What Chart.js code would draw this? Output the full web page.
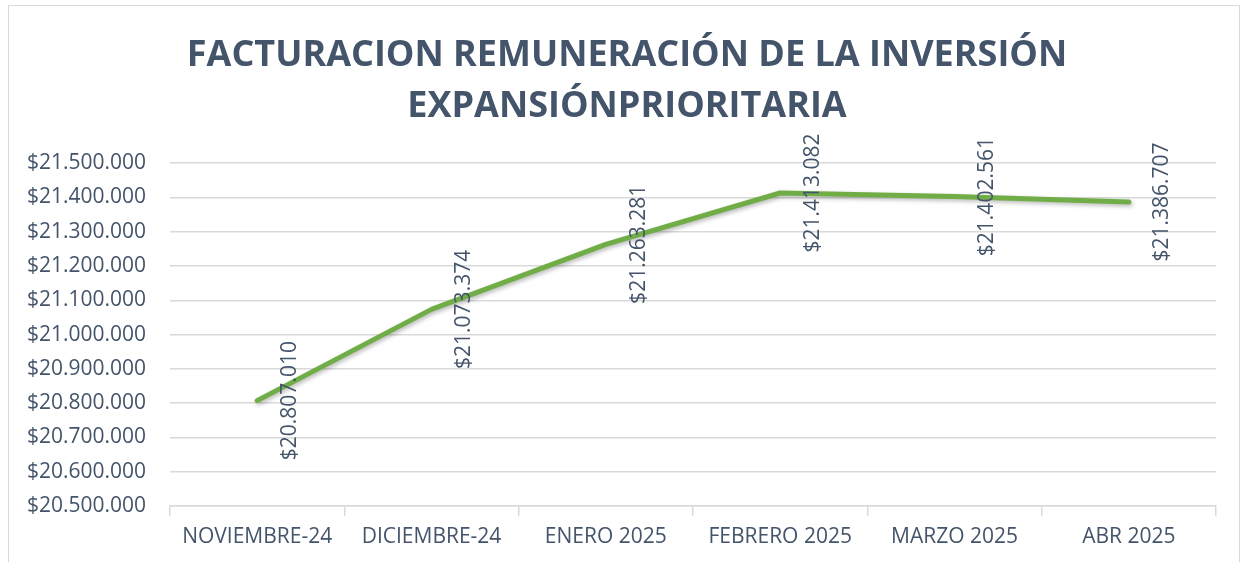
<!DOCTYPE html>
<html>
<head>
    <script src="https://cdn.jsdelivr.net/npm/chart.js@4.4.1/dist/chart.umd.min.js"></script>
    <style>
      body { margin: 0; background: #fff; }
      #wrap { width: 1246px; height: 562px; }
    </style>
</head>
<body>

<div id="wrap"><canvas id="myChart" width="1246" height="562"></canvas></div>

<script>
// Chart data
const meses = ['NOVIEMBRE-24', 'DICIEMBRE-24', 'ENERO 2025', 'FEBRERO 2025', 'MARZO 2025', 'ABR 2025'];
const facturacion = [20807010, 21073374, 21263281, 21413082, 21402561, 21386707];
const tituloLineas = ['FACTURACION REMUNERACIÓN DE LA INVERSIÓN', 'EXPANSIÓNPRIORITARIA'];
const yMin = 20500000;
const yMax = 21500000;
const yPaso = 100000;

const textColor = '#44546A';
const gridColor = '#D9D9D9';
const fontFamily = '"Open Sans", "Noto Sans", sans-serif';

// Format like $21.500.000
function pesos(v) {
  return '$' + Math.round(v).toString().replace(/\B(?=(\d{3})+(?!\d))/g, '.');
}

// Outer frame of the chart
const framePlugin = {
  id: 'frame',
  beforeDraw(chart) {
    const ctx = chart.ctx;
    ctx.save();
    ctx.fillStyle = '#fff';
    ctx.fillRect(0, 0, chart.width, chart.height);
    ctx.strokeStyle = gridColor;
    ctx.lineWidth = 1;
    ctx.strokeRect(8.5, 5.5, chart.width - 15, chart.height + 20);
    ctx.restore();
  }
};

// Soft shadow under the line
const shadowPlugin = {
  id: 'lineShadow',
  beforeDatasetsDraw(chart) {
    const ctx = chart.ctx;
    ctx.save();
    ctx.shadowColor = 'rgba(0,0,0,0.28)';
    ctx.shadowBlur = 4;
    ctx.shadowOffsetX = 1.5;
    ctx.shadowOffsetY = 2;
  },
  afterDatasetsDraw(chart) {
    chart.ctx.restore();
  }
};

// Vertical value labels next to each point
const labelsPlugin = {
  id: 'valueLabels',
  afterDatasetsDraw(chart) {
    const ctx = chart.ctx;
    const meta = chart.getDatasetMeta(0);
    ctx.save();
    ctx.fillStyle = textColor;
    ctx.font = '21px ' + fontFamily;
    ctx.textAlign = 'center';
    ctx.textBaseline = 'middle';
    meta.data.forEach((pt, i) => {
      ctx.save();
      ctx.translate(pt.x + 33, pt.y);
      ctx.rotate(-Math.PI / 2);
      ctx.fillText(pesos(chart.data.datasets[0].data[i]), 0, 0);
      ctx.restore();
    });
    ctx.restore();
  }
};

const ctx = document.getElementById('myChart').getContext('2d');
const myChart = new Chart(ctx, {
  type: 'line',
  data: {
    labels: meses,
    datasets: [{
      label: 'Facturación',
      data: facturacion,
      borderColor: '#70AD47',
      borderWidth: 5,
      borderCapStyle: 'round',
      borderJoinStyle: 'round',
      pointRadius: 0,
      tension: 0,
      fill: false,
      yAxisID: 'y'
    }]
  },
  options: {
    responsive: false,
    animation: false,
    layout: { padding: { top: 0, right: 0, bottom: 3, left: 8 } },
    plugins: {
      legend: { display: false },
      tooltip: { enabled: false },
      title: {
        display: true,
        text: tituloLineas,
        color: textColor,
        font: { family: fontFamily, size: 36, weight: 'bold', lineHeight: 1.42 },
        padding: { top: 30, bottom: 31 }
      }
    },
    scales: {
      x: {
        offset: true,
        grid: {
          offset: true,
          drawOnChartArea: false,
          drawTicks: true,
          tickLength: 10,
          color: gridColor,
          lineWidth: 1.5
        },
        border: { display: true, color: gridColor, width: 1.5 },
        ticks: {
          color: textColor,
          font: { family: fontFamily, size: 21 },
          padding: 9,
          maxRotation: 0,
          autoSkip: false
        }
      },
      y: {
        min: yMin,
        max: yMax,
        afterFit(scale) { scale.width = 162; },
        grid: { color: gridColor, lineWidth: 1.5, drawTicks: false },
        border: { display: false },
        ticks: {
          stepSize: yPaso,
          color: textColor,
          font: { family: fontFamily, size: 21 },
          padding: 24,
          callback: v => pesos(v)
        }
      },
      // empty right margin so the plot ends at x=1216
      margen: {
        position: 'right',
        afterFit(scale) { scale.width = 30; },
        grid: { display: false },
        border: { display: false },
        ticks: { display: false }
      }
    }
  },
  plugins: [framePlugin, shadowPlugin, labelsPlugin]
});
</script>

</body>
</html>
